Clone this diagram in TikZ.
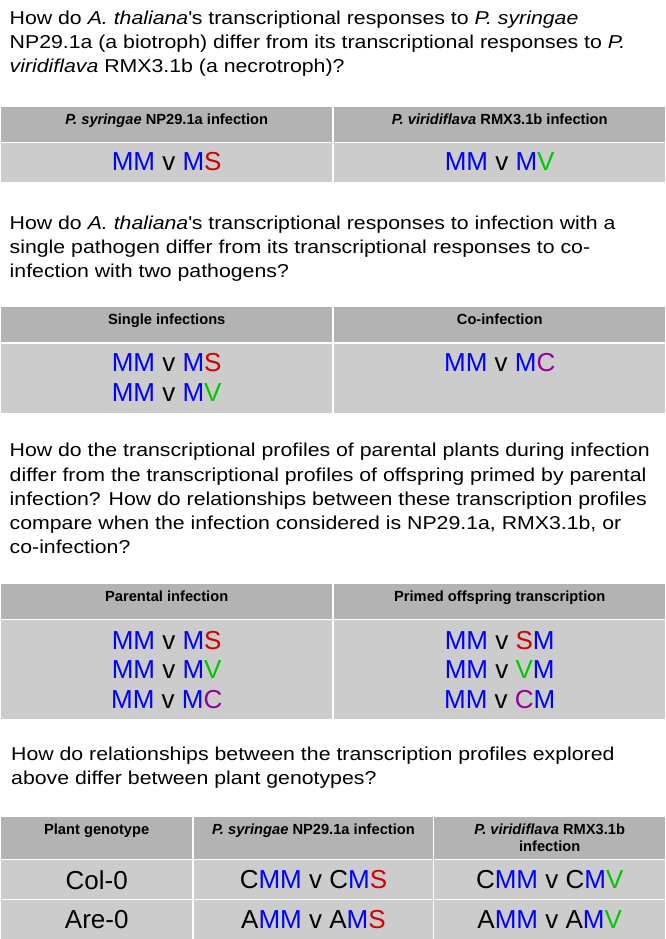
\documentclass[tikz,border=0pt]{standalone}
\usepackage{fontspec}
\setmainfont{Liberation Sans}
\newfontfamily\questfont[FakeStretch=1.14]{Liberation Sans}
\usepackage{tikz}
\usetikzlibrary{positioning}
\definecolor{hdrgray}{RGB}{179,179,179}
\definecolor{bdygray}{RGB}{204,204,204}
\definecolor{mblue}{RGB}{0,0,255}
\definecolor{sred}{RGB}{210,0,0}
\definecolor{vgreen}{RGB}{0,200,0}
\definecolor{cpurple}{RGB}{153,0,153}
\tikzstyle{hdr}=[fill=hdrgray, anchor=north west, inner sep=0pt]
\tikzstyle{bdy}=[hdr, fill=bdygray]
\tikzstyle{hdrtxt}=[anchor=north, inner sep=0pt, align=center,
  font=\bfseries\fontsize{14.67}{17}\selectfont]
\tikzstyle{bdytxt}=[anchor=north, inner sep=0pt, align=center,
  font=\fontsize{26}{29.5}\selectfont]
\tikzstyle{quest}=[anchor=north west, inner sep=0pt, align=left,
  font=\questfont\fontsize{18.67}{24.3}\selectfont]
\newcommand{\cel}[4]{node (c#1)[#2, minimum width=#3pt, minimum height=#4pt]{}}
\newcommand{\txt}[3]{node (t#1)[#2]{#3}}
\newcommand{\gM}{\textcolor{mblue}{M}}
\newcommand{\gS}{\textcolor{sred}{S}}
\newcommand{\gV}{\textcolor{vgreen}{V}}
\newcommand{\gC}{\textcolor{cpurple}{C}}
\begin{document}
\begin{tikzpicture}[x=1pt,y=-1pt]
	\useasboundingbox (0,0) rectangle (666,939);

	% Questions
	\path (9.5,10.4) node (q1)[quest] {How do \textit{A. thaliana}\textquotesingle s transcriptional responses to \textit{P. syringae}\\
		NP29.1a (a biotroph) differ from its transcriptional responses to \textit{P.}\\
		\textit{viridiflava} RMX3.1b (a necrotroph)?};
	\path (9.5,215.4) node (q2)[quest] {How do \textit{A. thaliana}\textquotesingle s transcriptional responses to infection with a\\
		single pathogen differ from its transcriptional responses to co-\\
		infection with two pathogens?};
	\path (9.5,443) node (q3)[quest] {How do the transcriptional profiles of parental plants during infection\\
		differ from the transcriptional profiles of offspring primed by parental\\
		infection? How do relationships between these transcription profiles\\
		compare when the infection considered is NP29.1a, RMX3.1b, or\\
		co-infection?};
	\path (11,746.4) node (q4)[quest] {How do relationships between the transcription profiles explored\\
		above differ between plant genotypes?};

	% Table 1
	\path (1,107) \cel{1a}{hdr}{331}{34.5};
	\path (334,107) \cel{1b}{hdr}{331}{34.5};
	\path (1,143) \cel{1c}{bdy}{331}{39};
	\path (334,143) \cel{1d}{bdy}{331}{39};
	\path (c1a.north)+(0,6.3) \txt{1a}{hdrtxt}{\textit{P. syringae} NP29.1a infection};
	\path (c1b.north)+(0,6.3) \txt{1b}{hdrtxt}{\textit{P. viridiflava} RMX3.1b infection};
	\path (c1c.north)+(0,9.4) \txt{1c}{bdytxt}{\gM\gM{} v \gM\gS};
	\path (c1d.north)+(0,9.4) \txt{1d}{bdytxt}{\gM\gM{} v \gM\gV};

	% Table 2
	\path (1,307) \cel{2a}{hdr}{331}{34.5};
	\path (334,307) \cel{2b}{hdr}{331}{34.5};
	\path (1,344) \cel{2c}{bdy}{331}{68.5};
	\path (334,344) \cel{2d}{bdy}{331}{68.5};
	\path (c2a.north)+(0,6.3) \txt{2a}{hdrtxt}{Single infections};
	\path (c2b.north)+(0,6.3) \txt{2b}{hdrtxt}{Co-infection};
	\path (c2c.north)+(0,9.4) \txt{2c}{bdytxt}{\gM\gM{} v \gM\gS\\ \gM\gM{} v \gM\gV};
	\path (c2d.north)+(0,9.4) \txt{2d}{bdytxt}{\gM\gM{} v \gM\gC};

	% Table 3
	\path (1,584) \cel{3a}{hdr}{331}{34.5};
	\path (334,584) \cel{3b}{hdr}{331}{34.5};
	\path (1,620) \cel{3c}{bdy}{331}{99};
	\path (334,620) \cel{3d}{bdy}{331}{99};
	\path (c3a.north)+(0,6.3) \txt{3a}{hdrtxt}{Parental infection};
	\path (c3b.north)+(0,6.3) \txt{3b}{hdrtxt}{Primed offspring transcription};
	\path (c3c.north)+(0,11) \txt{3c}{bdytxt}{\gM\gM{} v \gM\gS\\ \gM\gM{} v \gM\gV\\ \gM\gM{} v \gM\gC};
	\path (c3d.north)+(0,11) \txt{3d}{bdytxt}{\gM\gM{} v \gS\gM\\ \gM\gM{} v \gV\gM\\ \gM\gM{} v \gC\gM};

	% Table 4
	\path (1,817) \cel{4a}{hdr}{191}{42};
	\path (194,817) \cel{4b}{hdr}{238.5}{42};
	\path (434,817) \cel{4c}{hdr}{231}{42};
	\path (1,860) \cel{4d}{bdy}{191}{38.5};
	\path (194,860) \cel{4e}{bdy}{238.5}{38.5};
	\path (434,860) \cel{4f}{bdy}{231}{38.5};
	\path (1,900) \cel{4g}{bdy}{191}{39};
	\path (194,900) \cel{4h}{bdy}{238.5}{39};
	\path (434,900) \cel{4i}{bdy}{231}{39};
	\path (c4a.north)+(0,6.5) \txt{4a}{hdrtxt}{Plant genotype};
	\path (c4b.north)+(0,6.5) \txt{4b}{hdrtxt}{\textit{P. syringae} NP29.1a infection};
	\path (c4c.north)+(0,6.5) \txt{4c}{hdrtxt}{\textit{P. viridiflava} RMX3.1b\\ infection};
	\path (c4d.north)+(0,10) \txt{4d}{bdytxt}{Col-0};
	\path (c4e.north)+(0,10) \txt{4e}{bdytxt}{C\gM\gM{} v C\gM\gS};
	\path (c4f.north)+(0,10) \txt{4f}{bdytxt}{C\gM\gM{} v C\gM\gV};
	\path (c4g.north)+(0,10) \txt{4g}{bdytxt}{Are-0};
	\path (c4h.north)+(0,10) \txt{4h}{bdytxt}{A\gM\gM{} v A\gM\gS};
	\path (c4i.north)+(0,10) \txt{4i}{bdytxt}{A\gM\gM{} v A\gM\gV};

\end{tikzpicture}
\end{document}
